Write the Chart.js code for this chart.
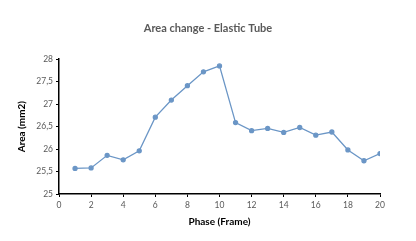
<!DOCTYPE html>
<html>
<head>
<meta charset="utf-8">
<script src="https://cdn.jsdelivr.net/npm/chart.js@4"></script>
<style>
  html, body { margin: 0; padding: 0; background: #fff; }
  #wrap { width: 416px; height: 241px; }
</style>
</head>
<body>
<div id="wrap"><canvas id="grafico"></canvas></div>
<script>
// DATOS
const fases = [1, 2, 3, 4, 5, 6, 7, 8, 9, 10, 11, 12, 13, 14, 15, 16, 17, 18, 19, 20];
const areas = [25.57, 25.58, 25.86, 25.76, 25.96, 26.71, 27.09, 27.41, 27.72, 27.85,
               26.59, 26.41, 26.46, 26.37, 26.48, 26.31, 26.38, 25.98, 25.74, 25.90];
const tituloGrafico = 'Area change - Elastic Tube';
const tituloX = 'Phase (Frame)';
const tituloY = 'Area (mm2)';

const gris = '#595959';
const fuente = "Lato, 'Open Sans', sans-serif";

new Chart(document.getElementById('grafico'), {
  type: 'line',
  data: {
    datasets: [{
      label: 'Area',
      data: fases.map((f, i) => ({ x: f, y: areas[i] })),
      borderColor: '#6b96c6',
      backgroundColor: '#6b96c6',
      borderWidth: 1.3,
      pointRadius: 2,
      pointHoverRadius: 2,
      tension: 0
    }]
  },
  options: {
    responsive: true,
    maintainAspectRatio: false,
    animation: false,
    layout: { padding: 0 },
    plugins: {
      legend: { display: false },
      tooltip: { enabled: false },
      title: {
        display: true,
        text: tituloGrafico,
        color: gris,
        font: { family: fuente, size: 11, weight: 'bold' },
        padding: { top: 22, bottom: 24 }
      }
    },
    scales: {
      x: {
        type: 'linear',
        min: 0,
        max: 20,
        afterFit: s => { s.height = 47; },
        border: { color: '#000', width: 1.5 },
        grid: { drawOnChartArea: false, drawTicks: true, tickLength: 3, color: '#000' },
        ticks: { stepSize: 2, color: gris, font: { family: fuente, size: 8.5 }, padding: 3 },
        title: {
          display: true,
          text: tituloX,
          color: '#000',
          font: { family: fuente, size: 10, weight: 'bold' },
          padding: { top: 0, bottom: 13 }
        }
      },
      y: {
        min: 25,
        max: 28,
        afterFit: s => { s.width = 59; },
        border: { color: '#000', width: 1.5 },
        grid: { drawOnChartArea: false, drawTicks: true, tickLength: 3, color: '#000' },
        ticks: {
          stepSize: 0.5,
          color: gris,
          font: { family: fuente, size: 8.5 },
          padding: 3,
          callback: v => String(v).replace('.', ',')
        },
        title: {
          display: true,
          text: tituloY,
          color: '#000',
          font: { family: fuente, size: 10, weight: 'bold' },
          padding: { top: 16, bottom: 0 }
        }
      },
      // eje vacio a la derecha para dejar margen
      margen: {
        position: 'right',
        display: true,
        afterFit: s => { s.width = 36; },
        border: { display: false },
        grid: { display: false },
        ticks: { display: false }
      }
    }
  }
});
</script>
</body>
</html>
